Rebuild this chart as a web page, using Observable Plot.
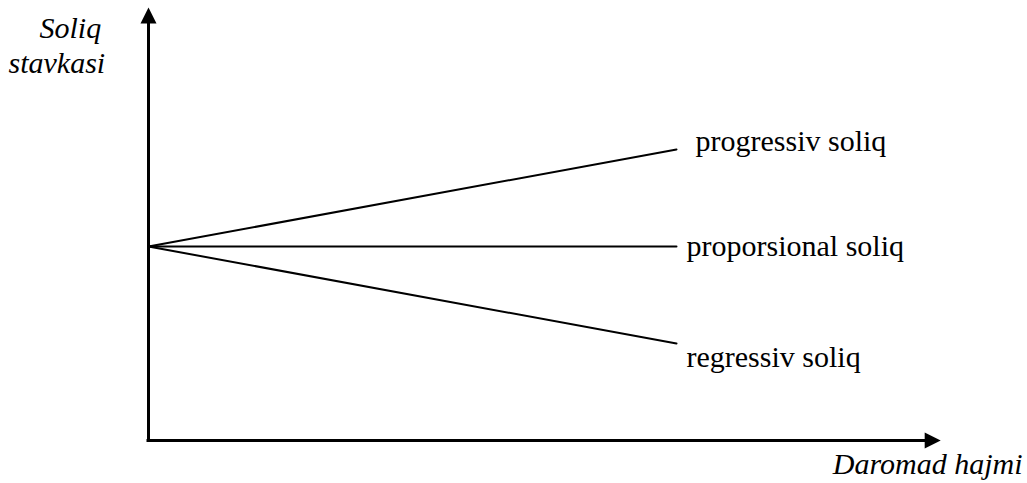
<!DOCTYPE html>
<html>
<head>
<meta charset="utf-8">
<script src="https://cdn.jsdelivr.net/npm/d3@7"></script>
<script src="https://cdn.jsdelivr.net/npm/@observablehq/plot@0.6"></script>
<style>
  html, body { margin: 0; padding: 0; background: #fff; }
</style>
</head>
<body>
<div id="chart"></div>
<script>
// Income (x) and tax rate (y) values
const income = [0, 10];
const progressive = [4, 6];
const proportional = [4, 4];
const regressive = [4, 2];
const seriesNames = ["progressiv soliq", "proporsional soliq", "regressiv soliq"];
const seriesValues = [progressive, proportional, regressive];
const axisXEnd = 14.7;
const axisYEnd = 8.6;
const yTitleLines = ["Soliq", "stavkasi"];
const xTitle = "Daromad hajmi";

const lineRows = seriesNames.flatMap((name, i) =>
  income.map((x, j) => ({series: name, x, y: seriesValues[i][j]})));
const endRows = seriesNames.map((name, i) =>
  ({series: name, x: income[income.length - 1], y: seriesValues[i][seriesValues[i].length - 1]}));

const arrowHead = {
  draw(context, size) {
    const r = Math.sqrt(size / Math.PI);
    context.moveTo(0, -2 * r);
    context.lineTo(r, 0);
    context.lineTo(-r, 0);
    context.closePath();
  }
};

const font = "Liberation Serif";

const chart = Plot.plot({
  width: 1027,
  height: 483,
  margin: 0,
  x: {domain: [0, 15], range: [148, 940], axis: null},
  y: {domain: [0, 9], range: [440, 3.5], axis: null},
  style: {fontFamily: font, background: "white", color: "black"},
  marks: [
    Plot.ruleX([0], {y1: 0, y2: axisYEnd, stroke: "black", strokeWidth: 3, strokeLinecap: "square"}),
    Plot.ruleY([0], {x1: 0, x2: axisXEnd, stroke: "black", strokeWidth: 3, strokeLinecap: "square"}),
    Plot.dot([{x: 0, y: axisYEnd}], {x: "x", y: "y", r: 8, symbol: arrowHead, fill: "black", stroke: "none", rotate: 0}),
    Plot.dot([{x: axisXEnd, y: 0}], {x: "x", y: "y", r: 8, symbol: arrowHead, fill: "black", stroke: "none", rotate: 90}),
    Plot.line(lineRows, {x: "x", y: "y", z: "series", stroke: "black", strokeWidth: 2}),
    Plot.text([endRows[0]], {x: "x", y: "y", text: "series", textAnchor: "start", lineAnchor: "bottom", dx: 19, dy: 1, fontSize: 30, fontFamily: font, fill: "black"}),
    Plot.text([endRows[1]], {x: "x", y: "y", text: "series", textAnchor: "start", lineAnchor: "bottom", dx: 10, dy: 9, fontSize: 30, fontFamily: font, fill: "black"}),
    Plot.text([endRows[2]], {x: "x", y: "y", text: "series", textAnchor: "start", lineAnchor: "bottom", dx: 10, dy: 23, fontSize: 30, fontFamily: font, fill: "black"}),
    Plot.text([yTitleLines[0]], {frameAnchor: "top-left", text: d => d, textAnchor: "start", lineAnchor: "bottom", dx: 39, dy: 37, fontSize: 30, fontFamily: font, fontStyle: "italic", fill: "black"}),
    Plot.text([yTitleLines[1]], {frameAnchor: "top-left", text: d => d, textAnchor: "start", lineAnchor: "bottom", dx: 8, dy: 72, fontSize: 30, fontFamily: font, fontStyle: "italic", fill: "black"}),
    Plot.text([xTitle], {frameAnchor: "bottom-right", text: d => d, textAnchor: "end", lineAnchor: "bottom", dx: -5, dy: -10, fontSize: 30, fontFamily: font, fontStyle: "italic", fill: "black"})
  ]
});
document.getElementById("chart").appendChild(chart);
</script>
</body>
</html>
